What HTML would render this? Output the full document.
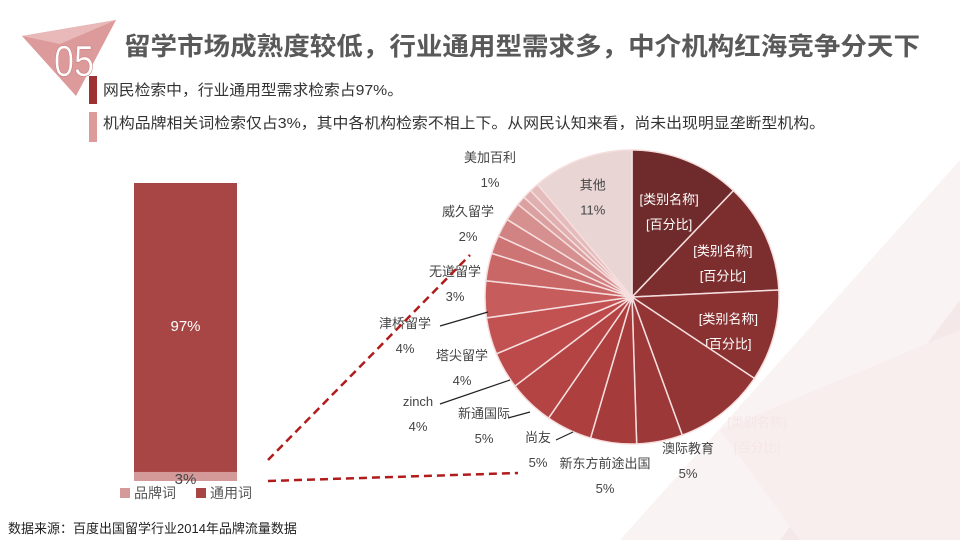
<!DOCTYPE html>
<html><head><meta charset="utf-8"><style>
body{margin:0;width:960px;height:540px;overflow:hidden;background:#fff;font-family:"Liberation Sans","Noto Sans CJK SC",sans-serif;}
svg text{font-family:"Liberation Sans","Noto Sans CJK SC",sans-serif;}
</style></head><body>
<svg width="960" height="540" viewBox="0 0 960 540">
<g>
<polygon points="960,160 960,540 620,540" fill="#faf3f3"/>
<polygon points="960,300 960,540 780,540" fill="#f5e8e8"/>
<polygon points="720,430 960,330 960,540 800,540" fill="#f8eeee"/>
</g>
<g>
<polygon points="22,36 116,20 76,96" fill="#dc9a9a"/>
<polygon points="22,36 116,20 60,44" fill="#e9b8b8"/>
<text x="54" y="76" font-size="44" fill="#fff" stroke="#c87a7a" stroke-width="0.6" textLength="40" lengthAdjust="spacingAndGlyphs">05</text>
</g>
<text x="124" y="55" font-size="25" font-weight="bold" fill="#595959" textLength="796" lengthAdjust="spacingAndGlyphs">留学市场成熟度较低，行业通用型需求多，中介机构红海竞争分天下</text>
<rect x="89" y="76" width="8" height="28" fill="#9e3232"/>
<text x="103" y="95" font-size="15" fill="#333" textLength="300" lengthAdjust="spacingAndGlyphs">网民检索中，行业通用型需求检索占97%。</text>
<rect x="89" y="112" width="8" height="30" fill="#dc9a9a"/>
<text x="103" y="128" font-size="15" fill="#333" textLength="722" lengthAdjust="spacingAndGlyphs">机构品牌相关词检索仅占3%，其中各机构检索不相上下。从网民认知来看，尚未出现明显垄断型机构。</text>

<g id="bar"></g>
<g id="pie"></g>

<line x1="268" y1="460" x2="470" y2="255" stroke="#b01c1c" stroke-width="2.5" stroke-dasharray="8,5"/>
<line x1="268" y1="481" x2="518" y2="473" stroke="#b01c1c" stroke-width="2.5" stroke-dasharray="8,5"/>

<text x="8" y="533" font-size="13" fill="#222">数据来源：百度出国留学行业2014年品牌流量数据</text>
</svg>
<script>
const barCats=["通用词","品牌词"];
const barVals=[97,3];
const barColors=["#a84646","#d49a9a"];
const pieLabels=["[类别名称]","[类别名称]","[类别名称]","[类别名称]","澳际教育","新东方前途出国","尚友","新通国际","zinch","塔尖留学","津桥留学","无道留学","","","威久留学","","","美加百利","其他"];
const pieVals=[12,12,10,10,5,5,5,5,4,4,4,3,2,2,2,1,1,1,11];
const pieText=["[百分比]","[百分比]","[百分比]","[百分比]","5%","5%","5%","5%","4%","4%","4%","3%","","","2%","","","1%","11%"];
const NS="http://www.w3.org/2000/svg";
function mk(t,a,p){const e=document.createElementNS(NS,t);for(const k in a)e.setAttribute(k,a[k]);p.appendChild(e);return e;}
const bar=document.getElementById('bar');
const bx=134,bw=103,bBottom=481,bTop=180,gap=3;
const yScale=v=>v/100*(bBottom-bTop);
let y=bBottom;
[1,0].forEach(i=>{
 const h=yScale(barVals[i]);
 const r=mk('rect',{x:bx,y:y-h+(i===0?gap:0),width:bw,height:h-(i===0?gap:0),fill:barColors[i]},bar);
 
 
 const t=mk('text',{x:bx+bw/2,y:i===0?y-h/2+5:y+3,'font-size':15,fill:i===0?'#fff':'#444','text-anchor':'middle'},bar);
 t.textContent=barVals[i]+'%';
 
 
 y-=h;
});
[[1,120],[0,196]].forEach(([i,x])=>{
 const s=mk('rect',{x:x,y:488,width:10,height:10,fill:barColors[i]},bar);
 
 
 const t=mk('text',{x:x+14,y:498,'font-size':14,fill:'#555'},bar);
 t.textContent=barCats[i];
 
 
});
const pie=document.getElementById('pie');
const cx=632,cy=297,R=147;
const total=pieVals.reduce((a,b)=>a+b,0);
const cols=["#6f2b2b","#7c2e2e","#8a3232","#933535","#9c3838","#a63b3b","#ad3f3f","#b44444","#bc4a4a","#c25252","#c65c5c","#c96767","#cd7474","#d18282","#d69090","#dba0a0","#e0afaf","#e4bcbc","#ead5d5"];
const ang=v=>v/total*2*Math.PI;
const pt=(a,r)=>[cx+r*Math.sin(a),cy-r*Math.cos(a)];
const outerLab={3:[757,427],4:[688,453],5:[605,468],6:[538,442],7:[484,418],8:[418,406],9:[462,360],10:[405,328],11:[455,276],14:[468,216],17:[490,162]};
let a0=0;
pieVals.forEach((v,i)=>{
 const a1=a0+ang(v);
 const p0=pt(a0,R),p1=pt(a1,R);
 const p=mk('path',{d:`M${cx},${cy}L${p0[0]},${p0[1]}A${R},${R} 0 ${a1-a0>Math.PI?1:0} 1 ${p1[0]},${p1[1]}Z`,fill:cols[i],stroke:'#f6dede','stroke-width':1.5},pie);
 
 
 const mid=(a0+a1)/2;
 let lx,ly,col='#fff';
 if(i===3){[lx,ly]=outerLab[i];col='#f6e6e6';}
 else if(i<3){[lx,ly]=pt(mid,R*0.68);}
 else if(i===18){[lx,ly]=pt(mid,R*0.78);col='#444';}
 else if(outerLab[i]){[lx,ly]=outerLab[i];col='#444';}
 if(lx!==undefined && pieLabels[i]){
  const t=mk('text',{x:lx,y:ly,'font-size':13,fill:col,'text-anchor':'middle'},pie);
  
  
  const s1=mk('tspan',{x:lx,dy:0},t);s1.textContent=pieLabels[i];
  const s2=mk('tspan',{x:lx,dy:25},t);s2.textContent=pieText[i];
 }
 a0=a1;
});
[[[440,326],[488,312]],[[440,404],[510,380]],[[508,418],[530,412]],[[556,440],[573,432]]].forEach(l=>{
 const ln=mk('polyline',{points:l.map(q=>q.join(',')).join(' '),fill:'none',stroke:'#222','stroke-width':1.2},pie);
 
 
});
</script>
</body></html>
